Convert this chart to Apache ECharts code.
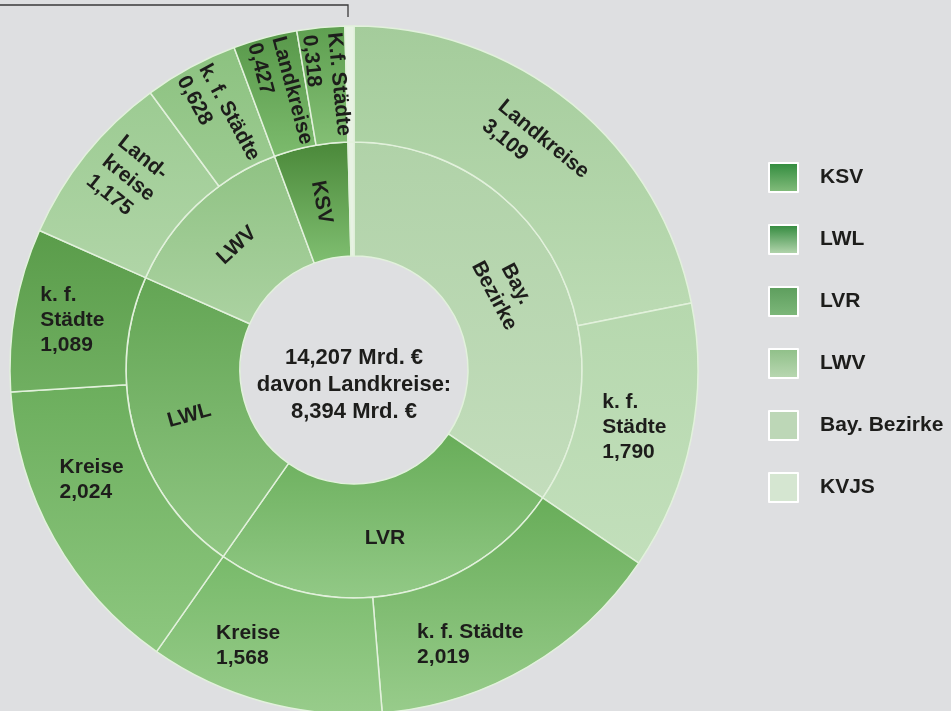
<!DOCTYPE html>
<html>
<head>
<meta charset="utf-8">
<script src="https://cdn.jsdelivr.net/npm/echarts@6/dist/echarts.min.js"></script>
<style>
html,body{margin:0;padding:0;background:#dedfe1;}
#c{width:951px;height:711px;}
</style>
</head>
<body>
<div id="c"></div>
<script>
// ---- data ----
const groups = ['Bay. Bezirke', 'LVR', 'LWL', 'LWV', 'KSV', 'KVJS'];
const groupLabels = ['Bay.\nBezirke', 'LVR', 'LWL', 'LWV', 'KSV', ''];
const childNames = [
  ['Landkreise', 'k. f.\nStädte'],
  ['k. f. Städte', 'Kreise'],
  ['Kreise', 'k. f.\nStädte'],
  ['Land-\nkreise', 'k. f. Städte'],
  ['Landkreise', 'K.f. Städte'],
  ['KVJS']
];
const childValues = [
  [3.109, 1.790],
  [2.019, 1.568],
  [2.024, 1.089],
  [1.175, 0.628],
  [0.427, 0.318],
  [0.060]
];
const totalText = '14,207 Mrd. €';
const landkreiseText = '8,394 Mrd. €';

// ---- styles (kept apart from data) ----
const innerColors = [
  ['#b0d2a8', '#c3ddbc'],
  ['#68ad59', '#92c986'],
  ['#63a554', '#8fc682'],
  ['#8fc283', '#abd2a1'],
  ['#4a8839', '#80bf71'],
  ['#e8f2e4', '#e8f2e4']
];
const outerColors = [
  [['#a4cc9b', '#bcdbb4'], ['#b6d8ae', '#c2dfbb']],
  [['#68ad59', '#98cc8b'], ['#78ba6a', '#98cc8b']],
  [['#6cae5d', '#8dc77f'], ['#5a9c4a', '#70af61']],
  [['#9ccb92', '#b0d5a7'], ['#8cc280', '#9dcb92']],
  [['#58984a', '#7cbb6d'], ['#5e9f50', '#84bf75']],
  [['#e8f2e4', '#e8f2e4']]
];
const legendColors = [
  ['#2f8a3c', '#86be7e'],
  ['#2e883a', '#b9d8b2'],
  ['#5c9d5c', '#7eb87b'],
  ['#8ebf87', '#bad8b3'],
  ['#bdd7b7', '#bdd7b7'],
  ['#d5e6d1', '#d5e6d1']
];
const legendOrder = ['KSV', 'LWL', 'LVR', 'LWV', 'Bay. Bezirke', 'KVJS'];
const innerRotate = ['tangential', 0, 'radial', 'tangential', 'radial', 0];
const outerRotate = [['tangential', 0], [0, 0], [0, 0], ['radial', 'radial'], ['radial', 'radial'], [0]];
// label shifts as padding [top,right,bottom,left]
const outerPad = [
  [[0, 0, 0, 0], [0, 0, 0, 0]],
  [[56, 56, 0, 0], [0, 62, 0, 0]],
  [[0, 26, 60, 0], [0, 0, 0, 0]],
  [[0, 20, 16, 0], [0, 0, 0, 0]],
  [[0, 0, 0, 0], [0, 0, 0, 0]],
  [[0, 0, 0, 0]]
];
const FONT = 'Liberation Sans';

function grad(c) {
  return { type: 'linear', x: 0, y: 0, x2: 0, y2: 1, colorStops: [{ offset: 0, color: c[0] }, { offset: 1, color: c[1] }] };
}
function fmt(v) { return v.toFixed(3).replace('.', ','); }
function richLines(s) { return s.split('\n').map(l => '{a|' + l + '}').join('\n'); }

const data = groups.map((g, i) => ({
  name: g,
  itemStyle: { color: grad(innerColors[i]) },
  label: { show: groupLabels[i] !== '', rotate: innerRotate[i], formatter: groupLabels[i] },
  children: childValues[i].map((v, j) => {
    const txt = g === 'KVJS' ? '' : childNames[i][j] + '\n' + fmt(v);
    return {
      name: childNames[i][j],
      value: v,
      itemStyle: { color: grad(outerColors[i][j]) },
      label: {
        show: txt !== '',
        rotate: outerRotate[i][j],
        formatter: richLines(txt),
        rich: { a: { align: 'left', fontSize: 21, fontWeight: 'bold', color: '#1d1d1b', lineHeight: 25, fontFamily: FONT } },
        padding: outerPad[i][j]
      }
    };
  })
}));

const chart = echarts.init(document.getElementById('c'));
chart.setOption({
  backgroundColor: '#dedfe1',
  animation: false,
  legend: {
    orient: 'vertical',
    left: 768,
    top: 162,
    padding: 0,
    itemWidth: 29,
    itemHeight: 29,
    itemGap: 31,
    icon: 'rect',
    selectedMode: false,
    data: legendOrder,
    itemStyle: { borderColor: '#ffffff', borderWidth: 2 },
    textStyle: { fontSize: 21, fontWeight: 'bold', color: '#1d1d1b', fontFamily: FONT, padding: [0, 0, 0, 17] }
  },
  graphic: [
    {
      type: 'polyline', silent: true,
      shape: { points: [[0, 5], [348, 5], [348, 17]] },
      style: { stroke: '#3a3a3a', lineWidth: 1.3, fill: null }
    },
    {
      type: 'text', silent: true, x: 354, y: 385,
      style: {
        text: totalText + '\ndavon Landkreise:\n' + landkreiseText,
        align: 'center', verticalAlign: 'middle',
        font: 'bold 22px "Liberation Sans"', lineHeight: 27, fill: '#1d1d1b'
      }
    }
  ],
  series: [
    {
      type: 'sunburst',
      center: [354, 370],
      radius: [114, 344],
      sort: null,
      nodeClick: false,
      emphasis: { disabled: true },
      startAngle: 90,
      clockwise: true,
      itemStyle: { borderColor: '#e2f1dc', borderWidth: 1.5 },
      label: { fontSize: 21, fontWeight: 'bold', color: '#1d1d1b', fontFamily: FONT, lineHeight: 25, minAngle: 0 },
      levels: [{}, { r0: 114, r: 228 }, { r0: 228, r: 344 }],
      data: data
    },
    {
      type: 'pie',
      name: 'legendHelper',
      silent: true,
      center: [-100, -100],
      radius: [0, 0],
      label: { show: false },
      labelLine: { show: false },
      data: legendOrder.map(n => ({ name: n, value: 1, itemStyle: { color: grad(legendColors[legendOrder.indexOf(n)]) } }))
    }
  ]
});
</script>
</body>
</html>
